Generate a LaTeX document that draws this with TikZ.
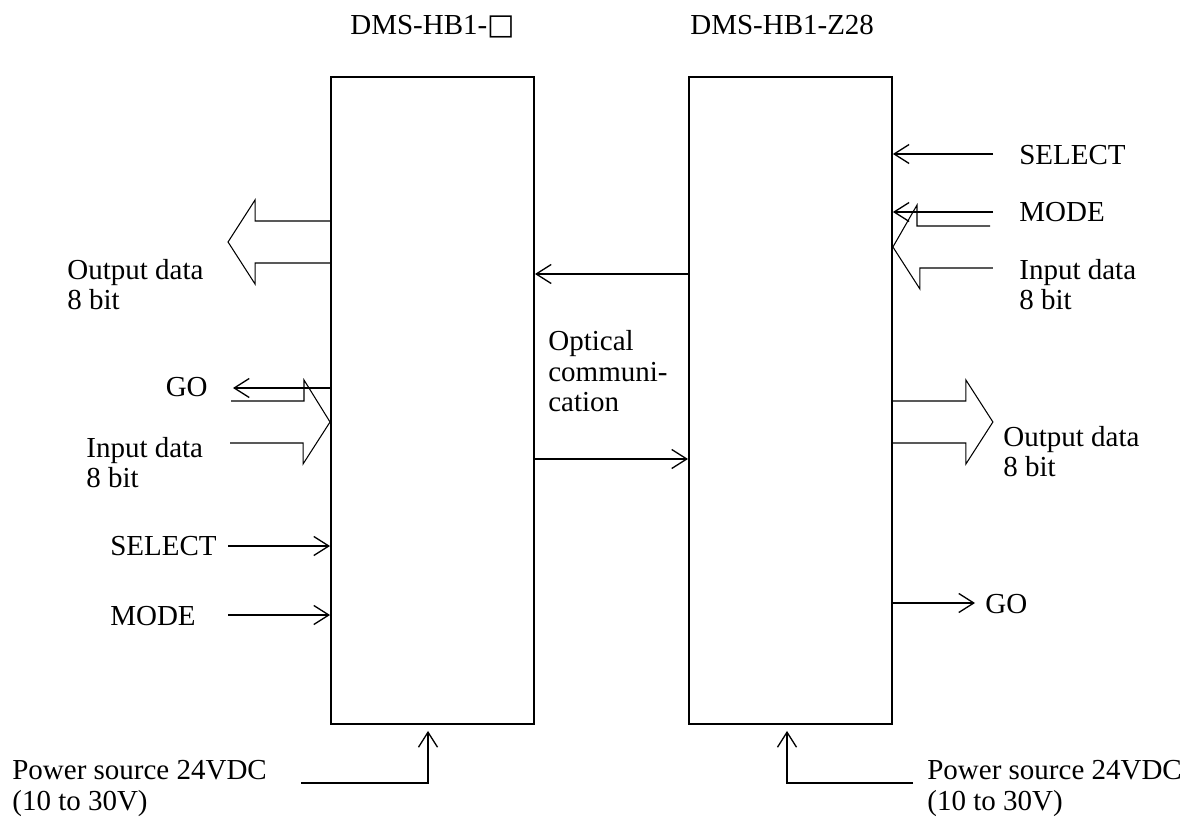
\documentclass[tikz,border=0pt]{standalone}
\usepackage{fontspec}
\setmainfont{Liberation Serif}
\newfontfamily\symfont{DejaVu Sans}
\usepackage{tikz}
\usetikzlibrary{arrows.meta, positioning, calc}
\tikzset{
  unit/.style={rectangle, draw=black, minimum width=4.06cm,
    minimum height=12.94cm, inner sep=0pt, line width=1.1pt},
  lbl/.style={anchor=base west, inner sep=0pt, align=left,
    font=\fontsize{16.5}{17.6}\selectfont},
  arrow/.style={-{Straight Barb[length=3mm, width=3.8mm]}, line width=0.75pt},
  fat/.style={line width=0.6pt, line join=miter}
}

\begin{document}
\begin{tikzpicture}
  \useasboundingbox (0,0) rectangle (23.88,-16.38);

  % Units
  \node[unit] (hb1) at (8.65,-8.01) {};
  \node[unit, right=3.06cm of hb1] (z28) {};
  \node[lbl] (hb1title) at (7.00,-0.70) {DMS-HB1-{\symfont □}};
  \node[lbl] (z28title) at (13.80,-0.70) {DMS-HB1-Z28};

  % Left unit: signals (base = last line)
  \node[lbl] (outL) at (1.34,-6.20) {Output data\\8 bit};
  \node[lbl, anchor=base east] (goL) at (4.16,-7.94) {GO};
  \node[lbl] (inL) at (1.72,-9.76) {Input data\\8 bit};
  \node[lbl] (selL) at (2.20,-11.12) {SELECT};
  \node[lbl] (modeL) at (2.20,-12.50) {MODE};

  % Output data (hollow arrow to the left)
  \draw[fat] (hb1.west |- 0,-4.42) -- ++(-1.5,0) -- ++(0,0.42) -- ++(-0.54,-0.84)
    -- ++(0.54,-0.84) -- ++(0,0.42) -- ++(1.5,0);

  % Input data (hollow arrow into the unit)
  \coordinate (inLtail) at (4.62,-8.02);
  \draw[fat] (inLtail) -- ++(1.46,0) -- ++(0,0.42) -- (hb1.west |- 0,-8.44)
    -- ++(-0.54,-0.84) -- ++(0,0.42) -- ++(-1.46,0);

  \coordinate (goLend) at (4.66,-7.76);
  \draw[arrow] (goLend -| hb1.west) -- (goLend);
  \foreach \y/\nm in {-10.92/selLend, -12.30/modeLend} {
    \coordinate (\nm) at (4.56,\y);
    \draw[arrow] (\nm) -- (\nm -| hb1.west);
  }

  % Optical communication between the units
  \draw[arrow] (z28.west |- 0,-5.48) -- (hb1.east |- 0,-5.48);
  \draw[arrow] (hb1.east |- 0,-9.18) -- (z28.west |- 0,-9.18);
  \node[lbl] (optic) at (10.96,-8.24) {Optical\\communi-\\cation};

  % Right unit: signals
  \node[lbl] (selR) at (20.38,-3.30) {SELECT};
  \node[lbl] (modeR) at (20.38,-4.44) {MODE};
  \node[lbl] (inR) at (20.38,-6.20) {Input data\\8 bit};
  \node[lbl] (outR) at (20.06,-9.54) {Output data\\8 bit};
  \node[lbl] (goR) at (19.70,-12.26) {GO};

  \foreach \y/\nm in {-3.08/selRend, -4.24/modeRend} {
    \coordinate (\nm) at (19.86,\y);
    \draw[arrow] (\nm) -- (\nm -| z28.east);
  }
  \coordinate (goRend) at (19.50,-12.06);
  \draw[arrow] (goRend -| z28.east) -- (goRend);

  % Input data (hollow arrow into the unit)
  \coordinate (inRtail) at (19.80,-4.52);
  \draw[fat] (inRtail) -- ++(-1.46,0) -- ++(0,0.42) -- (z28.east |- 0,-4.94)
    -- ++(0.54,-0.84) -- ++(0,0.42) -- ++(1.46,0);

  % Output data (hollow arrow to the right)
  \draw[fat] (z28.east |- 0,-8.02) -- ++(1.46,0) -- ++(0,0.42) -- ++(0.54,-0.84)
    -- ++(-0.54,-0.84) -- ++(0,0.42) -- ++(-1.46,0);

  % Power supply
  \node[lbl] (pwrLtext) at (0.24,-16.20) {Power source 24VDC\\(10 to 30V)};
  \node[lbl] (pwrRtext) at (18.54,-16.20) {Power source 24VDC\\(10 to 30V)};
  \coordinate (pwrL) at (6.02,-15.66);
  \coordinate (pwrLx) at (8.56,-15.66);
  \draw[arrow, shorten >=0.12cm] (pwrL) -- (pwrLx) -- (pwrLx |- hb1.south);
  \coordinate (pwrR) at (18.26,-15.66);
  \coordinate (pwrRx) at (15.74,-15.66);
  \draw[arrow, shorten >=0.12cm] (pwrR) -- (pwrRx) -- (pwrRx |- z28.south);
\end{tikzpicture}
\end{document}
